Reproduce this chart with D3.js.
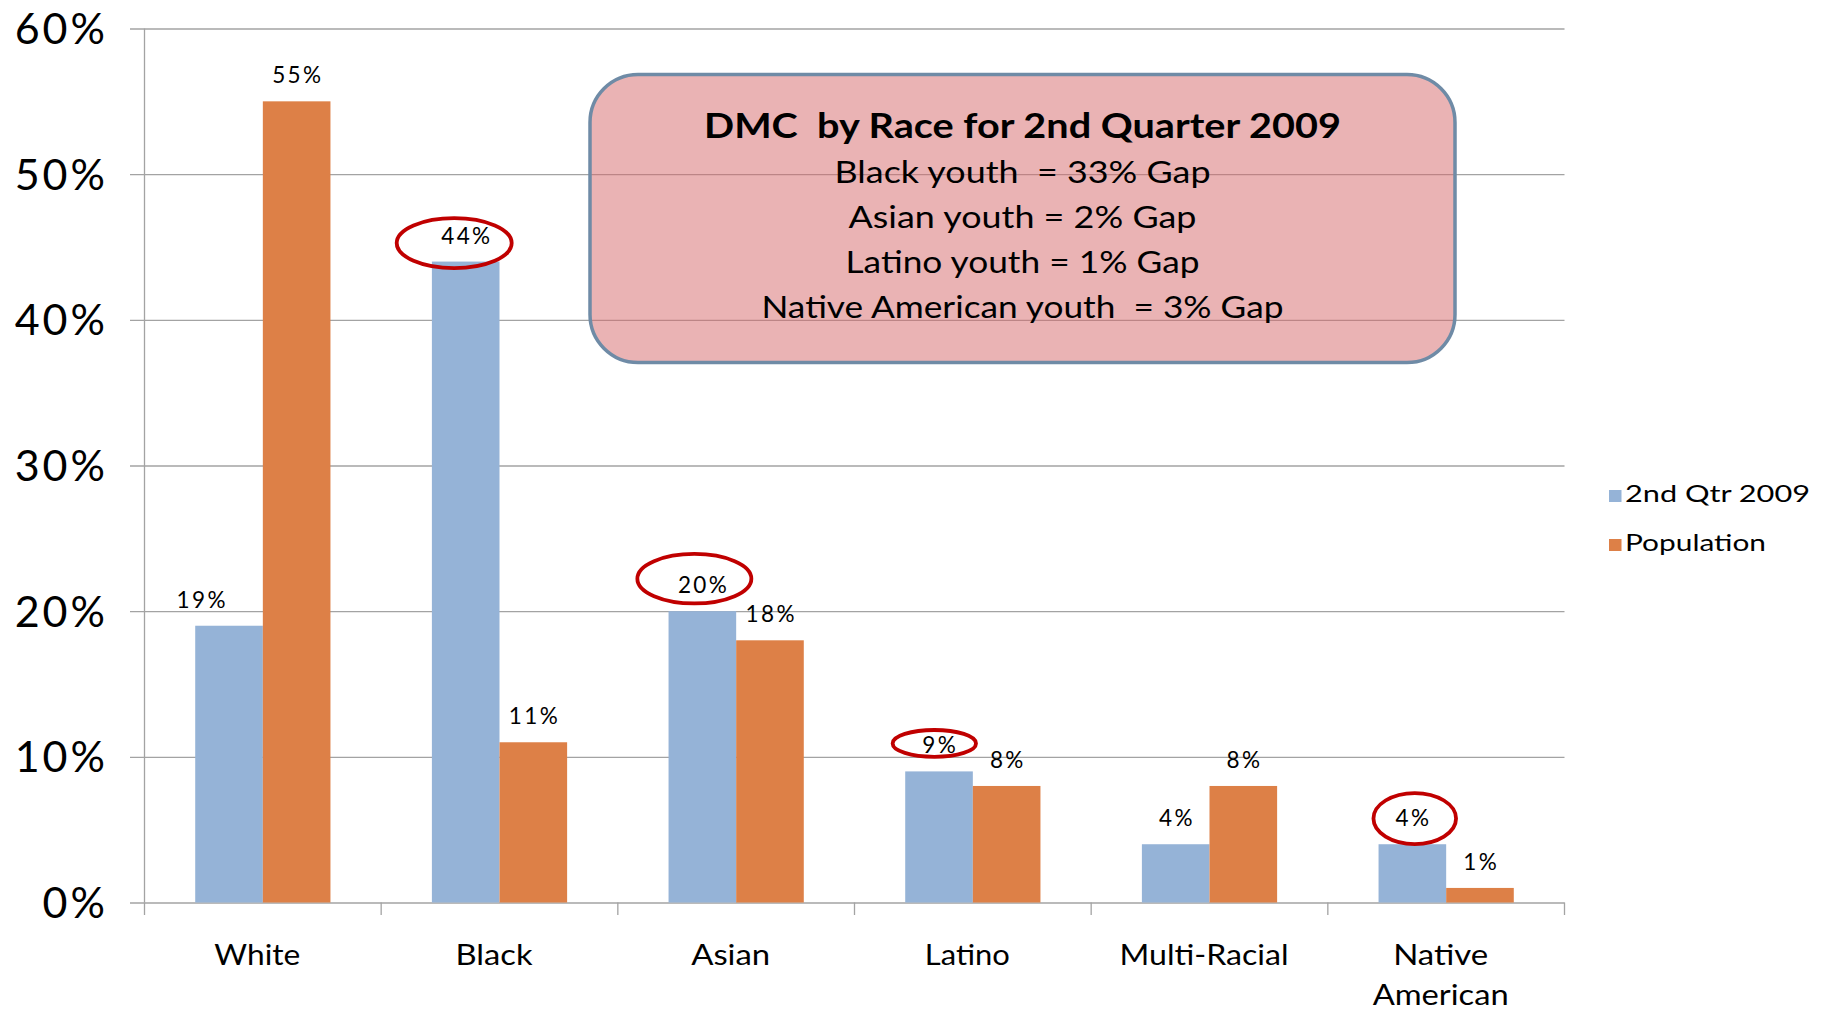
<!DOCTYPE html>
<html><head><meta charset="utf-8">
<script src="https://cdn.jsdelivr.net/npm/d3@7"></script>
<style>
body{margin:0;background:#fff}
svg{display:block}
text{font-family:Lato,"Open Sans",sans-serif;fill:#000}
.pre{white-space:pre}
</style>
</head><body>
<svg id="chart" width="1827" height="1010"></svg>
<script>
// ---------------- data ----------------
const categories = ["White","Black","Asian","Latino","Multi-Racial","Native American"];
const series = ["2nd Qtr 2009","Population"];
const qtr2009 = [0.19,0.44,0.20,0.09,0.04,0.04];
const population = [0.55,0.11,0.18,0.08,0.08,0.01];
const yTicks = [0,0.1,0.2,0.3,0.4,0.5,0.6];
const boxTitle = "DMC  by Race for 2nd Quarter 2009";
const boxLines = ["Black youth  = 33% Gap","Asian youth = 2% Gap","Latino youth = 1% Gap","Native American youth  = 3% Gap"];
const circledCategories = ["Black","Asian","Latino","Native American"];

// ---------------- layout / style ----------------
const plot = {left:144.5,right:1564.5,top:28.5,bottom:902.5};
const colors = {"2nd Qtr 2009":"#95B3D7","Population":"#DD8047"};
const gridColor = "#A3A3A3";
const catWidths = {"White":86,"Black":77,"Asian":79,"Latino":85,"Multi-Racial":169,"Native":95,"American":136};
const labelNudge = {"White|2nd Qtr 2009":-28};
const ellipseStyle = {
  "Black":{dx:-11.5,dy:-18.5,rx:57.5,ry:25},
  "Asian":{dx:-8,dy:-32.5,rx:57,ry:24.7},
  "Latino":{dx:-4.7,dy:-28,rx:41.7,ry:13.4},
  "Native American":{dx:2.4,dy:-25.7,rx:41.3,ry:25.5}
};

const svg = d3.select("#chart");
const x = d3.scaleBand().domain(categories).range([plot.left,plot.right]).padding(0);
const xs = d3.scaleBand().domain(series).range([0,x.bandwidth()]).paddingInner(0).paddingOuter(0.75);
const y = d3.scaleLinear().domain([0,0.6]).range([plot.bottom,plot.top]);

// gridlines + y tick labels
const gy = svg.append("g").attr("transform",`translate(${plot.right},0)`)
  .call(d3.axisLeft(y).tickValues(yTicks).tickFormat(d3.format(".0%"))
    .tickSize(plot.right-130).tickPadding(22));
gy.select(".domain").remove();
gy.selectAll(".tick line").attr("stroke",gridColor).attr("stroke-width",1.3);
gy.selectAll(".tick text").attr("font-size",43).attr("letter-spacing",3).attr("dy","0.35em").attr("fill","#000");

// y axis line
svg.append("line").attr("x1",plot.left).attr("x2",plot.left).attr("y1",plot.top).attr("y2",plot.bottom)
  .attr("stroke",gridColor).attr("stroke-width",1.3);
// category boundary ticks
const bounds = categories.map(c=>x(c)).concat([x.range()[1]]);
svg.append("g").selectAll("line").data(bounds).join("line")
  .attr("x1",d=>d).attr("x2",d=>d).attr("y1",plot.bottom).attr("y2",plot.bottom+12.5)
  .attr("stroke",gridColor).attr("stroke-width",1.3);

// bars
const rows = categories.map((c,i)=>({category:c, values:[
  {category:c,s:series[0],v:qtr2009[i]},{category:c,s:series[1],v:population[i]}]}));
const groups = svg.append("g").selectAll("g").data(rows).join("g")
  .attr("transform",d=>`translate(${x(d.category)},0)`);
groups.selectAll("rect").data(d=>d.values).join("rect")
  .attr("x",d=>xs(d.s)).attr("width",xs.bandwidth())
  .attr("y",d=>y(d.v)).attr("height",d=>y(0)-y(d.v))
  .attr("fill",d=>colors[d.s]);
groups.selectAll("text").data(d=>d.values).join("text")
  .attr("x",d=>xs(d.s)+xs.bandwidth()/2+(labelNudge[d.category+"|"+d.s]||0)+1.2)
  .attr("y",d=>y(d.v)-18)
  .attr("text-anchor","middle").attr("font-size",22.5).attr("letter-spacing",2.4)
  .text(d=>d3.format(".0%")(d.v));

// red ellipses around circled values
svg.append("g").selectAll("ellipse").data(circledCategories).join("ellipse")
  .attr("cx",c=>x(c)+xs(series[0])+xs.bandwidth()/2+ellipseStyle[c].dx)
  .attr("cy",c=>y(qtr2009[categories.indexOf(c)])+ellipseStyle[c].dy)
  .attr("rx",c=>ellipseStyle[c].rx).attr("ry",c=>ellipseStyle[c].ry)
  .attr("fill","none").attr("stroke","#C00000").attr("stroke-width",3.8);

// category labels
const cl = svg.append("g").selectAll("text").data(categories).join("text")
  .attr("text-anchor","middle").attr("font-size",29);
cl.each(function(c){
  const parts = c.includes(" ") ? c.split(" ") : [c];
  const t = d3.select(this);
  parts.forEach((p,i)=>{
    t.append("tspan").attr("x",x(c)+x.bandwidth()/2-5.5).attr("y",965+i*40)
      .attr("textLength",catWidths[p]).attr("lengthAdjust","spacingAndGlyphs").text(p);
  });
});

// legend
const legendW = [185,141];
const lg = svg.append("g").selectAll("g").data(series).join("g")
  .attr("transform",(d,i)=>`translate(1609,${490+i*49})`);
lg.append("rect").attr("width",12.5).attr("height",12).attr("fill",d=>colors[d]);
lg.append("text").attr("x",16).attr("y",12).attr("font-size",23)
  .attr("textLength",(d,i)=>legendW[i]).attr("lengthAdjust","spacingAndGlyphs").text(d=>d);

// annotation box
const box = {x:590,y:74.5,w:865,h:288};
svg.append("rect").attr("x",box.x).attr("y",box.y).attr("width",box.w).attr("height",box.h)
  .attr("rx",48).attr("ry",48)
  .attr("fill","rgb(213,103,105)").attr("fill-opacity",0.5)
  .attr("stroke","#6F8BA6").attr("stroke-width",3.5);
const cx = box.x+box.w/2;
svg.append("text").attr("class","pre").attr("x",cx).attr("y",138).attr("text-anchor","middle")
  .attr("font-size",35).attr("font-weight","bold")
  .attr("textLength",637).attr("lengthAdjust","spacingAndGlyphs").text(boxTitle);
const lineW = [376,348,354,522];
svg.append("g").selectAll("text").data(boxLines).join("text").attr("class","pre")
  .attr("x",cx).attr("y",(d,i)=>183+i*45).attr("text-anchor","middle").attr("font-size",30)
  .attr("textLength",(d,i)=>lineW[i]).attr("lengthAdjust","spacingAndGlyphs").text(d=>d);
</script>
</body></html>
